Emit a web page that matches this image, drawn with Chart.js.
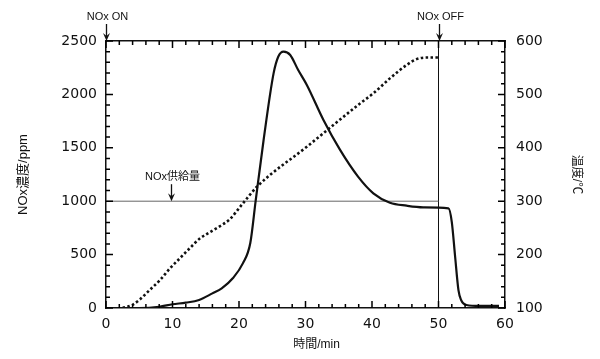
<!DOCTYPE html>
<html>
<head>
<meta charset="utf-8">
<script src="https://cdn.jsdelivr.net/npm/chart.js@4.4.0/dist/chart.umd.min.js"></script>
<style>
body{margin:0;background:#fff;}
</style>
</head>
<body>
<canvas id="myChart" width="600" height="359"></canvas>
<script>
// NOx濃度 (左軸 ppm)
var noxTime  = [0, 5, 8, 10, 12, 14, 16, 17.4, 19.1, 20.6, 21.7, 22.5, 23.7, 25.2, 25.9, 26.7, 27.7, 28.9, 30.2, 32.7, 35.2, 37.9, 40.2, 42.7, 45.2, 47.7, 51.5, 52.0, 52.5, 53.0, 53.4, 54.2, 56.2, 59.1];
var noxValue = [0, 0, 12, 35, 50, 75, 137, 184, 281, 420, 608, 1000, 1573, 2197, 2353, 2400, 2369, 2228, 2088, 1760, 1480, 1230, 1074, 986, 958, 943, 933, 805, 480, 168, 75, 28, 19, 19];

// 温度 (右軸 ℃)
var tempTime  = [2.5, 4, 5.1, 6.6, 8.1, 9.6, 11.1, 12.6, 14.1, 15.6, 17.1, 18.6, 20.4, 22.7, 30.2, 38.2, 40.2, 42.7, 45.2, 46.7, 48.2, 50];
var tempValue = [100, 106, 116, 134, 152, 174, 193, 212, 230, 242, 253, 266, 293, 327, 402, 483, 502, 530, 555, 566, 569, 569];

// NOx供給量 / NOx OFF
var supplyTime  = [0, 50];
var supplyValue = [1000, 1000];
var offTime  = [50, 50];
var offValue = [0, 2500];

// 目盛 (内向き)
var xMinor = [0, 2, 4, 6, 8, 10, 12, 14, 16, 18, 20, 22, 24, 26, 28, 30, 32, 34, 36, 38, 40, 42, 44, 46, 48, 50, 52, 54, 56, 58, 60];
var yMinor = [0, 100, 200, 300, 400, 500, 600, 700, 800, 900, 1000, 1100, 1200, 1300, 1400, 1500, 1600, 1700, 1800, 1900, 2000, 2100, 2200, 2300, 2400, 2500];
var y2Minor = [100, 120, 140, 160, 180, 200, 220, 240, 260, 280, 300, 320, 340, 360, 380, 400, 420, 440, 460, 480, 500, 520, 540, 560, 580, 600];

// 注記
var noteLabels = ['NOx ON', 'NOx OFF', 'NOx供給量'];
var noteTime   = [0, 50, 9.7];
var noteValue  = [2500, 2500, 1000];

function pts(xs, ys){
	var out = [];
	for (var i = 0; i < xs.length; i++) out.push({x: xs[i], y: ys[i]});
	return out;
}
function plain(v){ return '' + v; }

var FONT = 'DejaVu Sans';
var JFONT = '"Liberation Sans", "Noto Sans CJK JP", sans-serif';

var frameTicks = {
	id: 'frameTicks',
	afterDraw: function(c){
		var g = c.ctx, a = c.chartArea;
		var sx = c.scales.x, sy = c.scales.y, sy2 = c.scales.y2;
		g.save();
		g.strokeStyle = '#000';
		g.lineWidth = 1.5;
		g.beginPath();
		xMinor.forEach(function(t){
			var px = sx.getPixelForValue(t);
			var len = (t % 10 === 0) ? 7 : 4;
			g.moveTo(px, a.bottom); g.lineTo(px, a.bottom - len);
			g.moveTo(px, a.top); g.lineTo(px, a.top + len);
		});
		yMinor.forEach(function(v){
			var py = sy.getPixelForValue(v);
			var len = (v % 500 === 0) ? 7 : 4;
			g.moveTo(a.left, py); g.lineTo(a.left + len, py);
		});
		y2Minor.forEach(function(v){
			var py = sy2.getPixelForValue(v);
			var len = (v % 100 === 0) ? 7 : 4;
			g.moveTo(a.right, py); g.lineTo(a.right - len, py);
		});
		g.stroke();

		// 矢印
		g.strokeStyle = '#111';
		g.fillStyle = '#111';
		g.lineWidth = 1.3;
		g.font = '11px ' + JFONT;
		g.textAlign = 'center';
		g.textBaseline = 'middle';
		for (var i = 0; i < noteLabels.length; i++) {
			var ax = Math.round(sx.getPixelForValue(noteTime[i])) + 0.5;
			var tip = sy.getPixelForValue(noteValue[i]);
			g.beginPath();
			g.moveTo(ax, tip - 17); g.lineTo(ax, tip - 4);
			g.stroke();
			g.beginPath();
			g.moveTo(ax, tip);
			g.lineTo(ax - 3.5, tip - 8);
			g.lineTo(ax, tip - 5);
			g.lineTo(ax + 3.5, tip - 8);
			g.closePath();
			g.fill();
			g.fillText(noteLabels[i], ax + 1, tip - 24);
		}

		// 横軸タイトル
		g.font = '12px ' + JFONT;
		g.fillText('時間/min', (a.left + a.right) / 2 + 11, 345);
		g.restore();
	}
};

var ctx1 = document.getElementById('myChart').getContext('2d');
new Chart(ctx1, {
	type: 'line',
	data: {
		datasets: [
			{
				label: 'NOx濃度',
				data: pts(noxTime, noxValue),
				yAxisID: 'y',
				borderColor: '#111',
				borderWidth: 2.2,
				pointRadius: 0,
				cubicInterpolationMode: 'monotone',
				fill: false
			},
			{
				label: '温度',
				data: pts(tempTime, tempValue),
				yAxisID: 'y2',
				borderColor: '#111',
				borderWidth: 2.6,
				borderDash: [2.5, 2.4],
				borderCapStyle: 'butt',
				pointRadius: 0,
				cubicInterpolationMode: 'monotone',
				fill: false
			},
			{
				label: 'NOx供給量',
				data: pts(supplyTime, supplyValue),
				yAxisID: 'y',
				borderColor: '#666',
				borderWidth: 1,
				pointRadius: 0
			},
			{
				label: 'NOx OFF',
				data: pts(offTime, offValue),
				yAxisID: 'y',
				borderColor: '#111',
				borderWidth: 1,
				pointRadius: 0
			}
		]
	},
	options: {
		responsive: false,
		animation: false,
		layout: { padding: { top: 41, left: 0, right: 0, bottom: 0 } },
		plugins: { legend: { display: false }, tooltip: { enabled: false } },
		scales: {
			x: {
				type: 'linear', position: 'bottom', min: 0, max: 60,
				afterFit: function(s){ s.height = 51; },
				grid: { drawOnChartArea: false, drawTicks: false },
				border: { display: true, color: '#111', width: 1.5 },
				ticks: { stepSize: 10, padding: 8, color: '#111', font: { family: FONT, size: 14 }, callback: plain }
			},
			x2: {
				type: 'linear', position: 'top', min: 0, max: 60,
				afterFit: function(s){ s.height = 0; },
				grid: { drawOnChartArea: false, drawTicks: false },
				border: { display: true, color: '#111', width: 1.5 },
				ticks: { display: false }
			},
			y: {
				position: 'left', min: 0, max: 2500,
				afterFit: function(s){ s.width = 106; },
				grid: { drawOnChartArea: false, drawTicks: false },
				border: { display: true, color: '#111', width: 1.5 },
				ticks: { stepSize: 500, padding: 9, color: '#111', font: { family: FONT, size: 14 }, callback: plain },
				title: { display: true, text: 'NOx濃度/ppm', color: '#111', padding: { top: 16, bottom: 0 }, font: { family: JFONT, size: 13 } }
			},
			y2: {
				position: 'right', min: 100, max: 600,
				afterFit: function(s){ s.width = 95; },
				grid: { drawOnChartArea: false, drawTicks: false },
				border: { display: true, color: '#111', width: 1.5 },
				ticks: { stepSize: 100, padding: 11, color: '#111', font: { family: FONT, size: 14 }, callback: plain },
				title: { display: true, text: '温度/℃', color: '#111', padding: { top: 16, bottom: 0 }, font: { family: JFONT, size: 12 } }
			}
		}
	},
	plugins: [frameTicks]
});
</script>
</body>
</html>
